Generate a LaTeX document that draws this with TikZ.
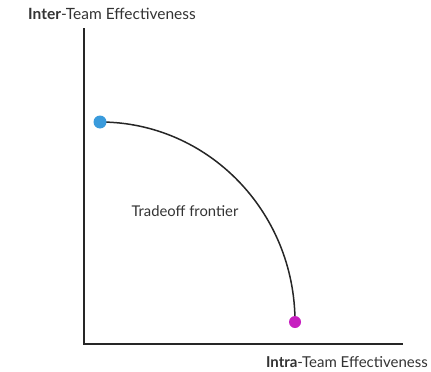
\documentclass[tikz,border=0pt]{standalone}
\usepackage{fontspec}
\setmainfont{Lato}
\usetikzlibrary{calc}

\definecolor{dotblue}{HTML}{3A9BDC}
\definecolor{dotmagenta}{HTML}{C71FC0}

\tikzset{
  axis/.style={line width=1.5pt, black!85},
  frontier/.style={line width=1.5pt, black!85},
  dot/.style={circle, inner sep=0pt, minimum size=13pt},
  axlabel/.style={font=\fontsize{15.5}{18}\selectfont, text=black!80, inner sep=0pt}
}

\begin{document}
\begin{tikzpicture}[x=1pt, y=-1pt]
            \useasboundingbox (0,0) rectangle (431,372);

            % axes
            \coordinate (O) at (84, 344);
            \coordinate (Ytop) at (84, 28);
            \coordinate (Xend) at (403, 344);
            \draw[axis] (Ytop) -- (O) -- (Xend);

            \node[axlabel, anchor=west] (ylab) at (28, 14) {\textbf{Inter}-Team Effectiveness};
            \node[axlabel, anchor=east, font=\fontsize{15}{18}\selectfont] (xlab) at (428, 362) {\textbf{Intra}-Team Effectiveness};

            % frontier
            \coordinate (P1) at (100, 122);
            \coordinate (P2) at (295, 322);
            \draw[frontier] (P1) arc[start angle=-90, end angle=0, x radius=195, y radius=200];

            \node[dot, fill=dotblue] (blue) at (P1) {};
            \node[dot, fill=dotmagenta, minimum size=12pt] (magenta) at (P2) {};

            \node[axlabel, font=\fontsize{14.8}{17}\selectfont] (trade) at (185, 211) {Tradeoff frontier};
        \end{tikzpicture}
\end{document}
